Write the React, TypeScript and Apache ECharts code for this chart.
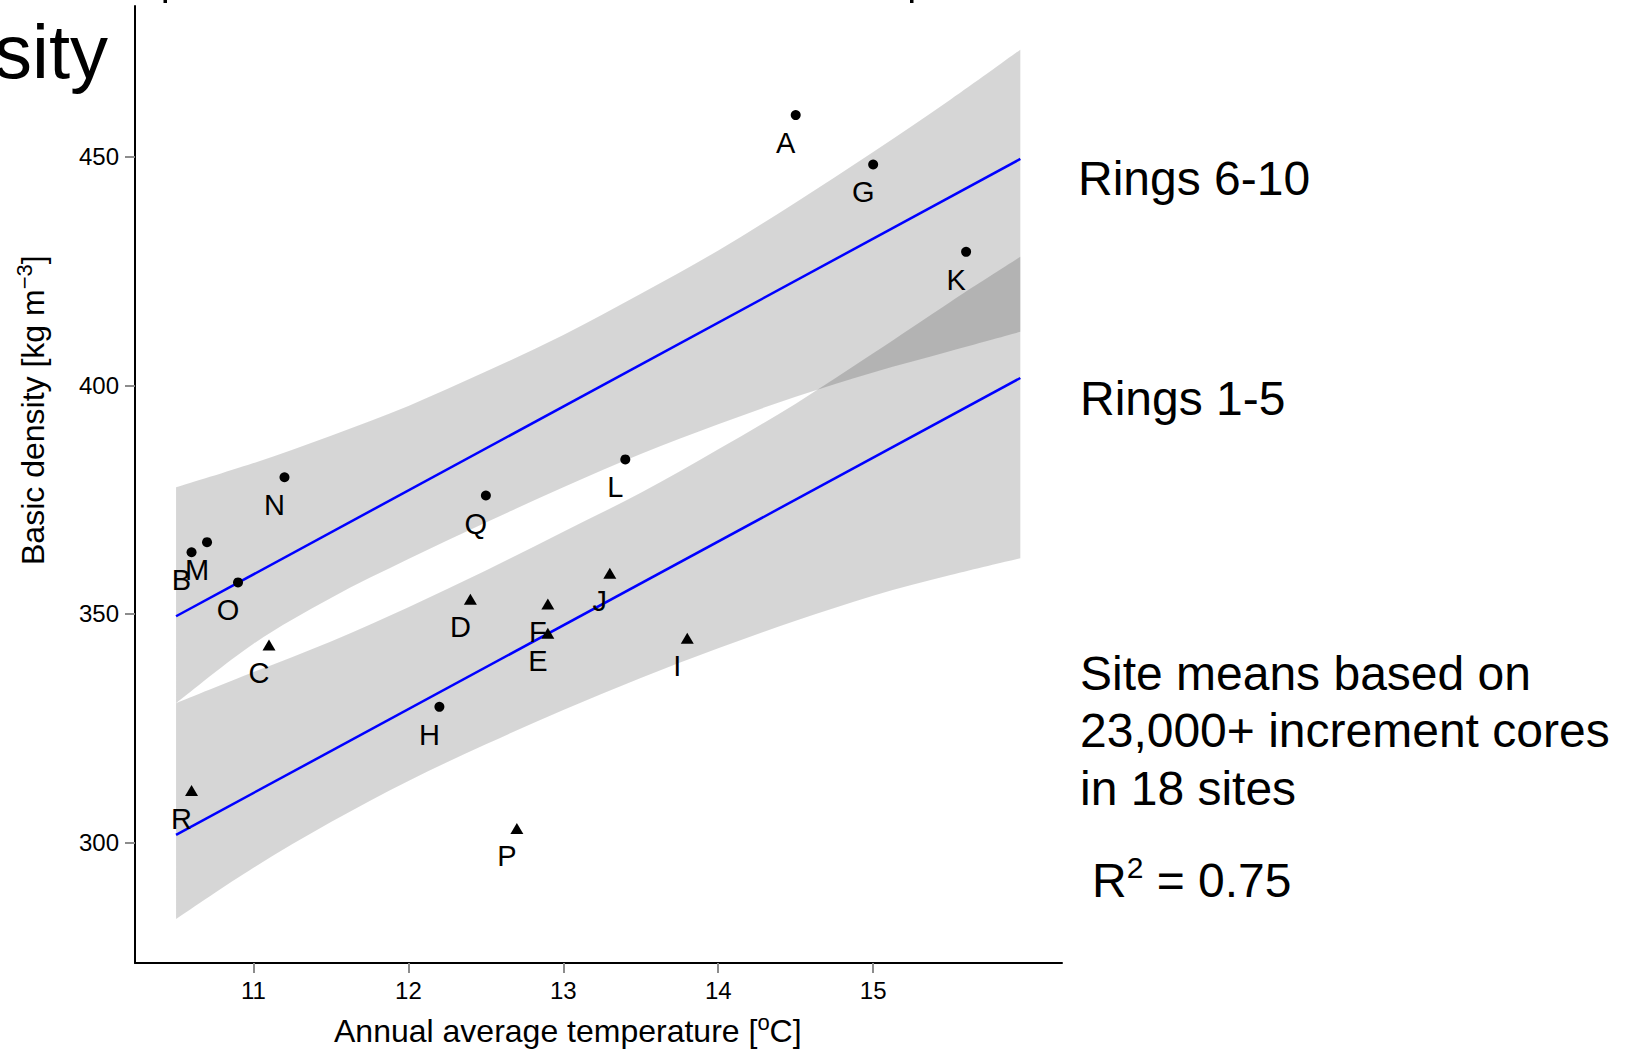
import React, { useEffect, useRef } from "react";
import * as echarts from "echarts";

// ---- Data ----
const xTicks = [11, 12, 13, 14, 15];
const yTicks = [300, 350, 400, 450];

// Confidence band edges, sampled along temperature
const bandX = [10.5, 11, 11.5, 12, 12.5, 13, 13.5, 14, 14.5, 15, 15.5, 15.95];
const rings610Hi = [377.7, 383, 389, 395.5, 403, 411, 420, 429.5, 440, 451, 462.5, 473.4];
const rings610Lo = [330.5, 343.5, 353.5, 362, 370, 377.7, 385, 391.5, 397.5, 402.8, 407.5, 411.7];
const rings15Hi = [330.5, 337.3, 344, 351.5, 359.5, 368, 376.5, 386, 396, 407, 418.3, 428.1];
const rings15Lo = [283.3, 294.5, 304.5, 313.5, 321.5, 329, 336, 342.5, 348.5, 354, 358.5, 362.2];

// Fitted lines (end points)
const fitX = [10.5, 15.95];
const fit610 = [349.5, 449.5];
const fit15 = [301.7, 401.6];

// Site means: circles
const circleNames = ["A", "G", "K", "L", "Q", "N", "M", "B", "O", "H"];
const circleX = [14.5, 15.0, 15.6, 13.4, 12.5, 11.2, 10.7, 10.6, 10.9, 12.2];
const circleY = [459.1, 448.3, 429.2, 383.8, 375.9, 379.9, 365.7, 363.5, 356.9, 329.7];

// Site means: triangles
const triNames = ["C", "D", "E", "F", "I", "J", "P", "R"];
const triX = [11.1, 12.4, 12.9, 12.9, 13.8, 13.3, 12.7, 10.6];
const triY = [343.2, 353.2, 345.8, 352.2, 344.7, 358.9, 303.1, 311.4];

const FONT = "'Liberation Sans', Arial, Helvetica, sans-serif";

// Smooth curve through pixel points (Catmull-Rom -> cubic Bezier), appended to a path string
function curveThrough(pts: number[][], start: boolean): string {
  let d = start ? `M${pts[0][0]},${pts[0][1]}` : `L${pts[0][0]},${pts[0][1]}`;
  const n = pts.length;
  for (let i = 0; i < n - 1; i++) {
    const p0 = pts[Math.max(i - 1, 0)];
    const p1 = pts[i];
    const p2 = pts[i + 1];
    const p3 = pts[Math.min(i + 2, n - 1)];
    const c1x = p1[0] + (p2[0] - p0[0]) / 6;
    const c1y = p1[1] + (p2[1] - p0[1]) / 6;
    const c2x = p2[0] - (p3[0] - p1[0]) / 6;
    const c2y = p2[1] - (p3[1] - p1[1]) / 6;
    d += `C${c1x},${c1y},${c2x},${c2y},${p2[0]},${p2[1]}`;
  }
  return d;
}

function bandRenderer(hi: number[], lo: number[]) {
  return (params: any, api: any) => {
    if (params.dataIndex !== 0) return null;
    const top: number[][] = [];
    const bottom: number[][] = [];
    for (let i = 0; i < bandX.length; i++) top.push(api.coord([bandX[i], hi[i]]));
    for (let i = bandX.length - 1; i >= 0; i--) bottom.push(api.coord([bandX[i], lo[i]]));
    const d = curveThrough(top, true) + curveThrough(bottom, false) + "Z";
    return {
      type: "path",
      shape: { pathData: d },
      style: { fill: "rgba(0,0,0,0.16)", stroke: null },
    };
  };
}

export default function App() {
  const ref = useRef<HTMLDivElement>(null);

  useEffect(() => {
    if (!ref.current) return;
    const chart = echarts.init(ref.current, undefined, { renderer: "svg" });

    const pointLabel = {
      show: true,
      position: "inside",
      offset: [-10, 28],
      formatter: (p: any) => p.name,
      fontSize: 29,
      fontFamily: FONT,
      color: "#000",
      opacity: 1,
      textBorderWidth: 0,
    };

    const option: any = {
      animation: false,
      backgroundColor: "#fff",
      grid: { left: 135, right: 563, top: 6, bottom: 87, containLabel: false },
      xAxis: {
        type: "value",
        min: 10.235,
        max: 16.219,
        axisLine: { show: true, onZero: false, lineStyle: { color: "#000", width: 2 } },
        axisTick: {
          show: true,
          length: 10,
          customValues: xTicks,
          lineStyle: { color: "#8c8c8c", width: 2 },
        },
        axisLabel: {
          customValues: xTicks,
          fontSize: 24,
          fontFamily: FONT,
          color: "#000",
          margin: 15,
        },
        splitLine: { show: false },
      },
      yAxis: {
        type: "value",
        min: 273.68,
        max: 482.95,
        axisLine: { show: true, onZero: false, lineStyle: { color: "#000", width: 2 } },
        axisTick: {
          show: true,
          length: 10,
          customValues: yTicks,
          lineStyle: { color: "#8c8c8c", width: 2 },
        },
        axisLabel: {
          customValues: yTicks,
          fontSize: 24,
          fontFamily: FONT,
          color: "#000",
          margin: 16,
        },
        splitLine: { show: false },
      },
      series: [
        {
          type: "custom",
          name: "Rings 6-10 band",
          renderItem: bandRenderer(rings610Hi, rings610Lo),
          data: bandX.map((x, i) => [x, rings610Hi[i], rings610Lo[i]]),
          encode: { x: 0, y: [1, 2] },
          z: 1,
          silent: true,
        },
        {
          type: "custom",
          name: "Rings 1-5 band",
          renderItem: bandRenderer(rings15Hi, rings15Lo),
          data: bandX.map((x, i) => [x, rings15Hi[i], rings15Lo[i]]),
          encode: { x: 0, y: [1, 2] },
          z: 1,
          silent: true,
        },
        {
          type: "line",
          name: "Rings 6-10",
          data: fitX.map((x, i) => [x, fit610[i]]),
          symbol: "none",
          lineStyle: { color: "#0000ff", width: 2.5 },
          z: 2,
        },
        {
          type: "line",
          name: "Rings 1-5",
          data: fitX.map((x, i) => [x, fit15[i]]),
          symbol: "none",
          lineStyle: { color: "#0000ff", width: 2.5 },
          z: 2,
        },
        {
          type: "scatter",
          name: "circles",
          symbol: "circle",
          symbolSize: 10,
          itemStyle: { color: "#000", opacity: 1 },
          data: circleNames.map((n, i) => ({ name: n, value: [circleX[i], circleY[i]] })),
          label: pointLabel,
          z: 3,
        },
        {
          type: "scatter",
          name: "triangles",
          symbol: "triangle",
          symbolSize: [13, 11],
          itemStyle: { color: "#000", opacity: 1 },
          data: triNames.map((n, i) => ({ name: n, value: [triX[i], triY[i]] })),
          label: pointLabel,
          z: 3,
        },
      ],
      graphic: [
        {
          type: "text",
          x: 108,
          y: 51,
          style: { text: "sity", font: `76px ${FONT}`, fill: "#000", align: "right", verticalAlign: "middle" },
        },
        { type: "rect", shape: { x: 163.5, y: 0, width: 3.5, height: 3 }, style: { fill: "#000" } },
        { type: "rect", shape: { x: 910, y: 0, width: 3.5, height: 3 }, style: { fill: "#000" } },
        {
          type: "text",
          x: 33,
          y: 565,
          rotation: Math.PI / 2,
          style: {
            text: "{a|Basic density [kg m}{s|\u22123}{a|]}",
            align: "left",
            verticalAlign: "middle",
            rich: {
              a: { fontSize: 32, fontFamily: FONT, fill: "#000", lineHeight: 40, verticalAlign: "middle" },
              s: { fontSize: 22, fontFamily: FONT, fill: "#000", lineHeight: 26, verticalAlign: "top" },
            },
          },
        },
        {
          type: "text",
          x: 334,
          y: 1031,
          style: {
            text: "{a|Annual average temperature [}{s|o}{a|C]}",
            align: "left",
            verticalAlign: "middle",
            rich: {
              a: { fontSize: 32, fontFamily: FONT, fill: "#000", lineHeight: 40, verticalAlign: "middle" },
              s: { fontSize: 22, fontFamily: FONT, fill: "#000", lineHeight: 26, verticalAlign: "top" },
            },
          },
        },
        {
          type: "text",
          x: 1078,
          y: 178,
          style: { text: "Rings 6-10", font: `48px ${FONT}`, fill: "#000", align: "left", verticalAlign: "middle" },
        },
        {
          type: "text",
          x: 1080,
          y: 398,
          style: { text: "Rings 1-5", font: `48px ${FONT}`, fill: "#000", align: "left", verticalAlign: "middle" },
        },
        {
          type: "text",
          x: 1080,
          y: 673,
          style: { text: "Site means based on", font: `48px ${FONT}`, fill: "#000", align: "left", verticalAlign: "middle" },
        },
        {
          type: "text",
          x: 1080,
          y: 730,
          style: { text: "23,000+ increment cores", font: `48px ${FONT}`, fill: "#000", align: "left", verticalAlign: "middle" },
        },
        {
          type: "text",
          x: 1080,
          y: 788,
          style: { text: "in 18 sites", font: `48px ${FONT}`, fill: "#000", align: "left", verticalAlign: "middle" },
        },
        {
          type: "text",
          x: 1092,
          y: 880,
          style: {
            text: "{a|R}{s|2}{a| = 0.75}",
            align: "left",
            verticalAlign: "middle",
            rich: {
              a: { fontSize: 48, fontFamily: FONT, fill: "#000", lineHeight: 56, verticalAlign: "middle" },
              s: { fontSize: 30, fontFamily: FONT, fill: "#000", lineHeight: 34, verticalAlign: "top" },
            },
          },
        },
      ],
    };

    chart.setOption(option);
    return () => chart.dispose();
  }, []);

  return (
    <div
      ref={ref}
      style={{ position: "fixed", left: 0, top: 0, width: 1625, height: 1050, background: "#fff" }}
    />
  );
}
